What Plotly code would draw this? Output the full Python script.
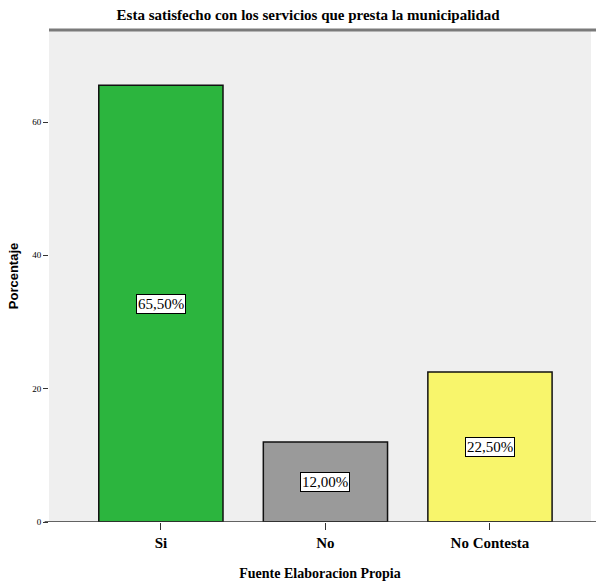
import plotly.graph_objects as go

# Survey answers and their percentages
categories = ["Si", "No", "No Contesta"]
percentages = [65.5, 12.0, 22.5]
bar_colors = ["#2cb53e", "#9a9a9a", "#f8f56b"]
y_tick_values = [0, 20, 40, 60]
y_tick_labels = ["0", "20", "40", "60"]

serif = "Liberation Serif, Times New Roman, serif"

fig = go.Figure()
fig.add_trace(go.Bar(
    x=list(range(len(categories))),
    y=percentages,
    width=0.755,
    marker=dict(color=bar_colors, line=dict(color="#111111", width=1.5)),
    hoverinfo="skip",
))

# Value labels in white boxes centred inside each bar
for i, v in enumerate(percentages):
    fig.add_annotation(
        x=i, y=v / 2, xref="x", yref="y",
        text=f"{v:.2f}%".replace(".", ","),
        showarrow=False,
        font=dict(family=serif, size=15, color="#000000"),
        bgcolor="#ffffff", bordercolor="#000000", borderwidth=1, borderpad=1,
    )

# Heavy gray rule along the top of the plotting area
fig.add_shape(type="line", xref="paper", yref="paper", x0=0, x1=1.02, y0=1, y1=1,
              line=dict(color="#7a7a7a", width=3))
# Baseline
fig.add_shape(type="line", xref="paper", yref="y", x0=-0.008, x1=1.02, y0=0, y1=0,
              line=dict(color="#333333", width=1.5))

fig.update_layout(
    width=596, height=583,
    margin=dict(l=49, r=5, t=30, b=61),
    paper_bgcolor="#ffffff",
    plot_bgcolor="#efefef",
    showlegend=False,
    title=dict(
        text="<b>Esta satisfecho con los servicios que presta la municipalidad</b>",
        x=0.517, xanchor="center", y=0.975, yanchor="middle",
        font=dict(family=serif, size=15, color="#000000"),
    ),
    xaxis=dict(
        range=[-0.68, 2.614],
        tickmode="array", tickvals=list(range(len(categories))),
        ticktext=[f"<b>{c}</b>" for c in categories],
        ticks="outside", ticklen=7, tickcolor="#333333", tickwidth=1,
        tickfont=dict(family=serif, size=15, color="#000000"),
        showgrid=False, zeroline=False, showline=False,
        title=dict(text="<b>Fuente Elaboracion Propia</b>",
                   font=dict(family=serif, size=14, color="#000000"), standoff=18),
    ),
    yaxis=dict(
        range=[0, 73.8],
        tickmode="array", tickvals=y_tick_values, ticktext=y_tick_labels,
        ticks="outside", ticklen=5, tickcolor="#333333", tickwidth=1,
        tickfont=dict(family=serif, size=9, color="#000000"),
        showgrid=False, zeroline=False, showline=False,
        title=dict(text="<b>Porcentaje</b>",
                   font=dict(family="Liberation Sans, Arial, sans-serif", size=13, color="#000000"),
                   standoff=10),
    ),
)

fig.write_html("out.html")
